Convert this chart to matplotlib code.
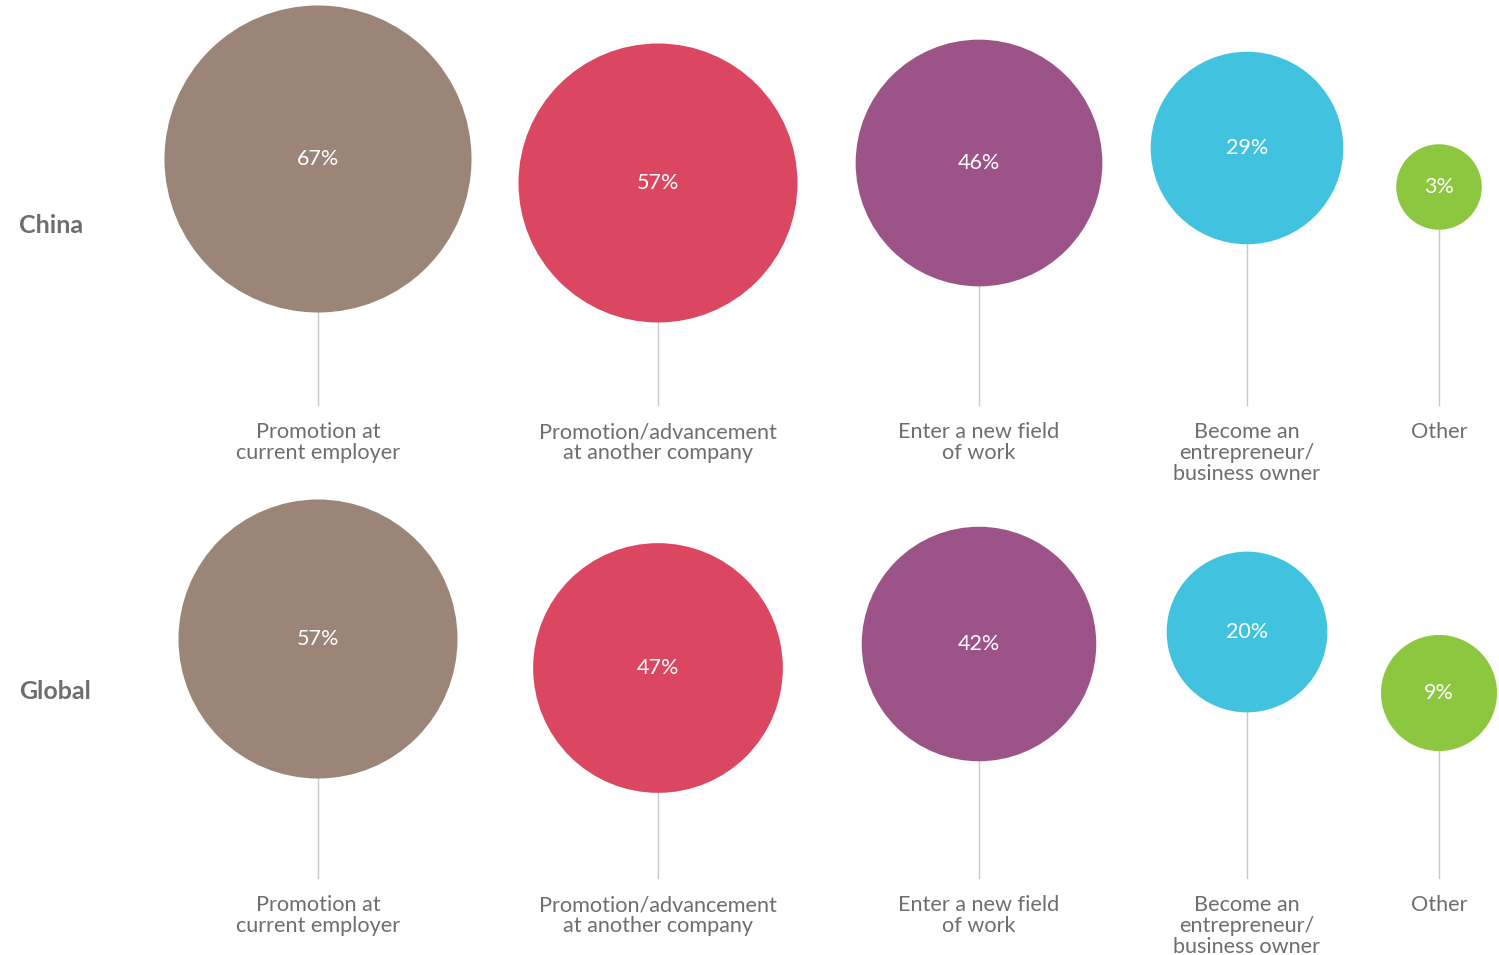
import matplotlib.pyplot as plt
from matplotlib.patches import Circle

# Share of respondents by career goal
categories = [
    "Promotion at\ncurrent employer",
    "Promotion/advancement\nat another company",
    "Enter a new field\nof work",
    "Become an\nentrepreneur/\nbusiness owner",
    "Other",
]
regions = ["China", "Global"]
china = [67, 57, 46, 29, 3]
global_ = [57, 47, 42, 20, 9]

colors = ["#9b8576", "#db4760", "#9c5388", "#41c3df", "#8dc63f"]
text_gray = "#6d6e71"
stem_gray = "#c9c9c9"

# layout in pixels
col_x = [318, 658, 979, 1247, 1439]
stem_bottom = [405, 878]
region_y = [225, 691]
lift = [[246, 222, 242, 257, 218],
        [239, 210, 234, 246, 185]]


def radius(v):
    return 30.8 + 5.24 * v ** 0.75


plt.rcParams['font.family'] = ['Lato', 'DejaVu Sans']

fig = plt.figure(figsize=(14.99, 9.55), dpi=100)
ax = fig.add_axes([0, 0, 1, 1])
ax.set_xlim(0, 1499)
ax.set_ylim(955, 0)
ax.axis('off')

for row, (region, values) in enumerate(zip(regions, [china, global_])):
    base = stem_bottom[row]
    ax.text(19, region_y[row], region, fontsize=18, fontweight='bold',
            color=text_gray, ha='left', va='center')
    for i, v in enumerate(values):
        x = col_x[i]
        y = base - lift[row][i]
        ax.plot([x, x], [y, base], color=stem_gray, lw=1, zorder=1)
        ax.add_patch(Circle((x, y), radius(v), facecolor=colors[i],
                            edgecolor='none', zorder=2))
        ax.text(x, y, f"{v}%", fontsize=15.5, color='white',
                ha='center', va='center', zorder=3)
        ax.text(x, base + 17, categories[i], fontsize=15.6, color=text_gray,
                ha='center', va='top', linespacing=1.06)

fig.savefig('out.png', dpi=100)
